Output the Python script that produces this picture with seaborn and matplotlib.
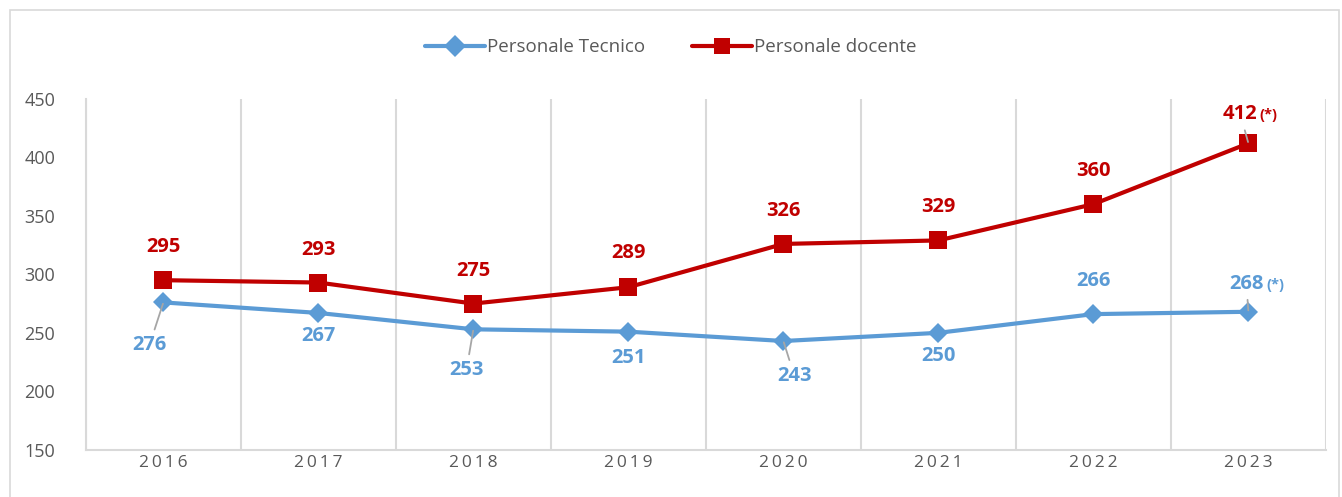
import numpy as np
import pandas as pd
import seaborn as sns
import matplotlib.pyplot as plt
from matplotlib.patches import Rectangle

sns.set_style("white")
plt.rcParams['font.family'] = ['Open Sans', 'DejaVu Sans']

years = ["2016", "2017", "2018", "2019", "2020", "2021", "2022", "2023"]
tecnico = [276, 267, 253, 251, 243, 250, 266, 268]
docente = [295, 293, 275, 289, 326, 329, 360, 412]

# label offsets in pixels (dx, dy) and whether a leader line is drawn
tec_off = [(-14, -43, True), (0, -23, False), (-7, -41, True), (0, -26, False),
           (11, -35, True), (0, -23, False), (0, 33, False), (-2, 28, True)]
doc_off = [(0, 33, False), (0, 33, False), (0, 33, False), (0, 34, False),
           (0, 33, False), (0, 33, False), (0, 33, False), (-8, 29, True)]

blue = "#5B9BD5"
red = "#C00000"

df = pd.DataFrame({"anno": years * 2,
                   "valore": tecnico + docente,
                   "serie": ["Personale Tecnico"] * 8 + ["Personale docente"] * 8})

fig = plt.figure(figsize=(13.42, 4.97), dpi=100)
ax = fig.add_axes([0.064, 0.095, 0.924, 0.706])

sns.lineplot(data=df, x="anno", y="valore", hue="serie", style="serie",
             palette=[blue, red], markers=["D", "s"], dashes=False,
             linewidth=3, markersize=11, markeredgewidth=0, ax=ax)
for ln, ms in zip(ax.lines, [10, 12.5]):
    ln.set_markersize(ms)

ax.set_ylim(150, 450)
ax.set_yticks(range(150, 451, 50))
ax.set_xlim(-0.5, 7.5)
ax.set_xticks(np.arange(-0.5, 8, 1), minor=True)
ax.xaxis.grid(True, which="minor", color="#D9D9D9", linewidth=1.5)
ax.yaxis.grid(False)
ax.set_xlabel("")
ax.set_ylabel("")
for s in ["top", "right"]:
    ax.spines[s].set_visible(False)
for s in ["left", "bottom"]:
    ax.spines[s].set_color("#D9D9D9")
    ax.spines[s].set_linewidth(1.5)
ax.tick_params(axis="both", which="both", length=0, labelsize=13, colors="#595959")
ax.tick_params(axis="y", pad=22)
ax.set_xticks(range(len(years)))
ax.set_xticklabels(["\u2009".join(y) for y in years], fontsize=12.5)

def label(vals, offs, color, star_gap):
    for i, (v, (dx, dy, lead)) in enumerate(zip(vals, offs)):
        props = dict(arrowstyle="-", color="#A6A6A6", lw=1.3, shrinkA=2, shrinkB=1) if lead else None
        ax.annotate(str(v), xy=(i, v), xytext=(dx, dy), textcoords="offset pixels",
                    ha="center", va="center", fontsize=14.5, fontweight="bold",
                    color=color, arrowprops=props)
        if i == len(vals) - 1:
            ax.annotate("(*)", xy=(i, v), xytext=(dx + star_gap, dy - 1),
                        textcoords="offset pixels", ha="left", va="center",
                        fontsize=10.5, fontweight="bold", color=color)

label(tecnico, tec_off, blue, 20)
label(docente, doc_off, red, 19)

leg = ax.legend(loc="center", bbox_to_anchor=(0.5, 0.905), bbox_transform=fig.transFigure,
                ncol=2, frameon=False, fontsize=13.5, handlelength=3.2, handletextpad=0.1,
                columnspacing=2.5)
for t in leg.get_texts():
    t.set_color("#595959")

fig.patches.append(Rectangle((0.0075, -0.05), 0.99, 1.03, transform=fig.transFigure,
                             fill=False, edgecolor="#D9D9D9", linewidth=1.2))

fig.savefig("out.png", dpi=100)
